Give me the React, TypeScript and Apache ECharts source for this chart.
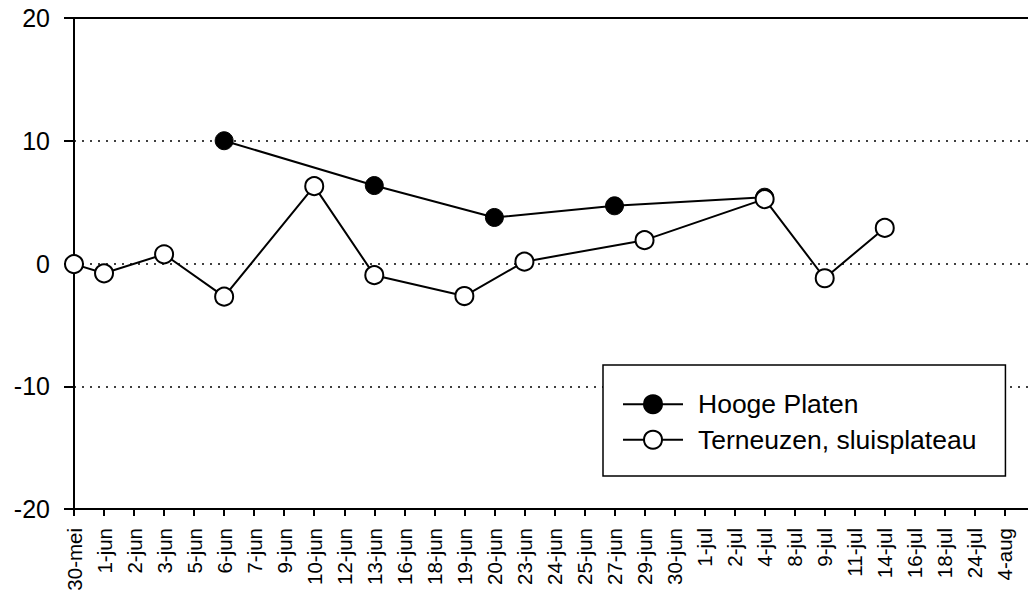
import React, { useEffect, useRef } from "react";
import * as echarts from "echarts";

const categories = [
  "30-mei", "1-jun", "2-jun", "3-jun", "5-jun", "6-jun", "7-jun", "9-jun",
  "10-jun", "12-jun", "13-jun", "16-jun", "18-jun", "19-jun", "20-jun", "23-jun",
  "24-jun", "25-jun", "27-jun", "29-jun", "30-jun", "1-jul", "2-jul", "4-jul",
  "8-jul", "9-jul", "11-jul", "14-jul", "16-jul", "18-jul", "24-jul", "4-aug",
];

const hoogeDates = ["6-jun", "13-jun", "20-jun", "27-jun", "4-jul"];
const hoogeValues = [10, 6.35, 3.75, 4.7, 5.4];

const terneuzenDates = [
  "30-mei", "1-jun", "3-jun", "6-jun", "10-jun", "13-jun",
  "19-jun", "23-jun", "29-jun", "4-jul", "9-jul", "14-jul",
];
const terneuzenValues = [-0.05, -0.8, 0.75, -2.7, 6.3, -0.95, -2.65, 0.15, 1.9, 5.25, -1.2, 2.9];

const yTicks = [-20, -10, 0, 10, 20];

const FONT = 'Arial, "Liberation Sans", sans-serif';

function toPairs(dates: string[], values: number[]) {
  return dates.map((d, i) => [categories.indexOf(d), values[i]]);
}

export default function App() {
  const ref = useRef<HTMLDivElement>(null);
  useEffect(() => {
    if (!ref.current) return;
    const chart = echarts.init(ref.current, null, { renderer: "svg" });
    const xMax = 31.77;
    chart.setOption({
      animation: false,
      backgroundColor: "#fff",
      grid: {
        left: 74,
        top: 18,
        right: 0,
        bottom: 92,
        containLabel: false,
        outerBoundsMode: "none",
      },
      legend: {
        orient: "vertical",
        left: 603,
        top: 365,
        padding: [25.75, 29, 22.75, 19],
        itemWidth: 60,
        itemHeight: 22.5,
        itemGap: 8.5,
        borderColor: "#000",
        borderWidth: 1.5,
        borderRadius: 0,
        backgroundColor: "#fff",
        lineStyle: { width: 2, color: "#000" },
        textStyle: {
          color: "#000",
          fontSize: 26.5,
          fontFamily: FONT,
          padding: [0, 0, 0, 10],
        },
        data: ["Hooge Platen", "Terneuzen, sluisplateau"],
      },
      xAxis: [
        {
          type: "value",
          min: 0,
          max: xMax,
          interval: 1,
          position: "bottom",
          axisLine: { show: true, onZero: false, lineStyle: { color: "#000", width: 2 } },
          axisTick: { show: true, length: 7, lineStyle: { color: "#000", width: 2 } },
          splitLine: { show: false },
          axisLabel: {
            rotate: 90,
            margin: 19,
            color: "#000",
            fontSize: 20.5,
            fontFamily: FONT,
            showMaxLabel: false,
            formatter: (v: number) =>
              Number.isInteger(v) && categories[v] !== undefined ? categories[v] : "",
          },
        },
        {
          type: "value",
          min: 0,
          max: xMax,
          position: "top",
          axisLine: { show: true, onZero: false, lineStyle: { color: "#000", width: 2 } },
          axisTick: { show: false },
          axisLabel: { show: false },
          splitLine: { show: false },
        },
      ],
      yAxis: {
        type: "value",
        min: yTicks[0],
        max: yTicks[yTicks.length - 1],
        interval: 10,
        axisLine: { show: true, onZero: false, lineStyle: { color: "#000", width: 2 } },
        axisTick: { show: true, length: 10, lineStyle: { color: "#000", width: 2 } },
        axisLabel: { margin: 24, color: "#000", fontSize: 25, fontFamily: FONT },
        splitLine: { show: true, lineStyle: { color: "#000", width: 1.5, type: [2, 6] } },
      },
      series: [
        {
          name: "Hooge Platen",
          type: "line",
          data: toPairs(hoogeDates, hoogeValues),
          symbol: "circle",
          symbolSize: 18,
          color: "#000",
          itemStyle: { color: "#000", borderColor: "#000", borderWidth: 1 },
          lineStyle: { color: "#000", width: 2 },
          z: 2,
        },
        {
          name: "Terneuzen, sluisplateau",
          type: "line",
          data: toPairs(terneuzenDates, terneuzenValues),
          symbol: "circle",
          symbolSize: 18,
          color: "#000",
          itemStyle: { color: "#fff", borderColor: "#000", borderWidth: 2 },
          lineStyle: { color: "#000", width: 2 },
          z: 3,
        },
      ],
    });
    return () => chart.dispose();
  }, []);
  return (
    <div
      ref={ref}
      style={{ position: "absolute", left: 0, top: 0, width: 1028, height: 601 }}
    />
  );
}
